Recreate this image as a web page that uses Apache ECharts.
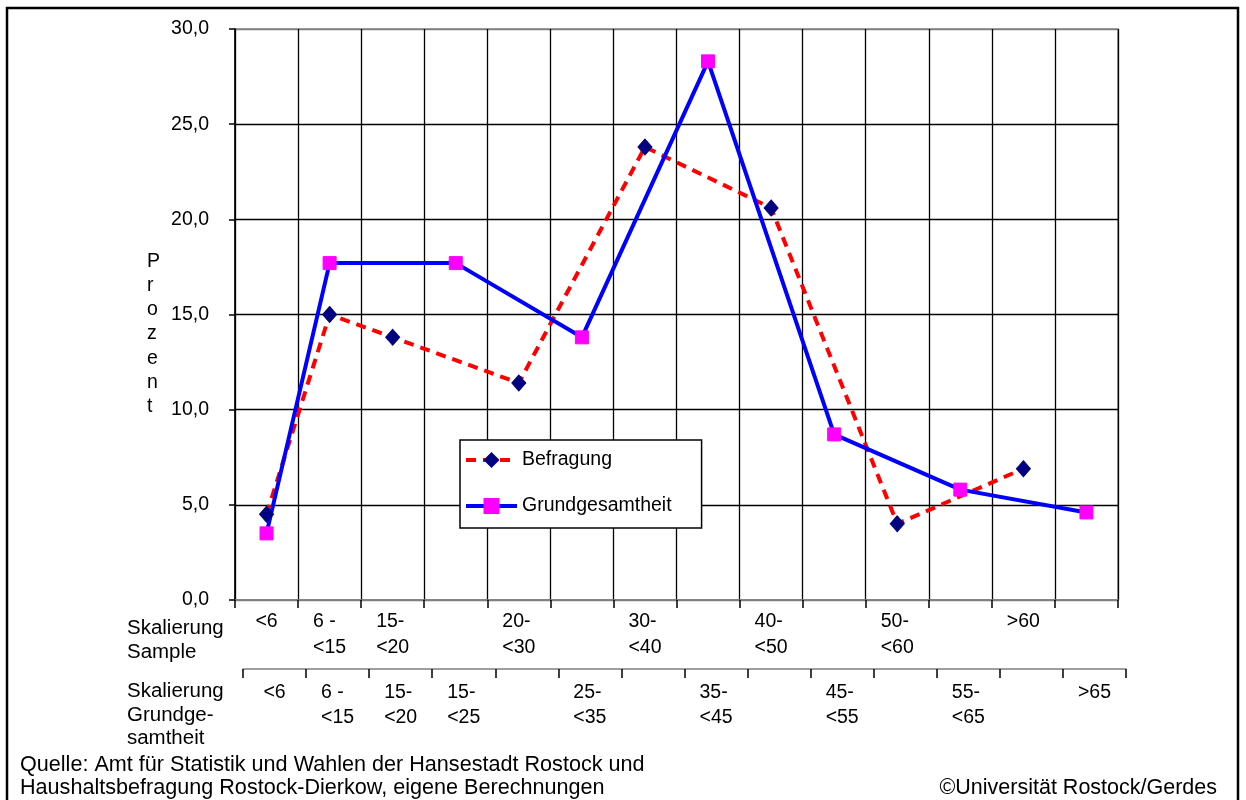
<!DOCTYPE html>
<html>
<head>
<meta charset="utf-8">
<script src="https://cdn.jsdelivr.net/npm/echarts@6/dist/echarts.min.js"></script>
<style>html,body{margin:0;padding:0;background:#fff}#c{width:1246px;height:800px}</style>
</head>
<body>
<div id="c"></div>
<script>
// column ids (14 age-class columns)
const categories = ['k01','k02','k03','k04','k05','k06','k07','k08','k09','k10','k11','k12','k13','k14'];
// tick labels, row "Skalierung Sample"
const sampleLabels = ['<6','6 -\n<15','15-\n<20','','20-\n<30','','30-\n<40','','40-\n<50','','50-\n<60','','>60',''];
// tick labels, row "Skalierung Grundgesamtheit"
const populationLabels = ['<6','6 -\n<15','15-\n<20','15-\n<25','','25-\n<35','','35-\n<45','','45-\n<55','','55-\n<65','','>65'];
// series values (Prozent)
const befragung = [4.5, 15.0, 13.8, null, 11.4, null, 23.8, null, 20.6, null, 4.0, null, 6.9, null];
const grundgesamtheit = [3.5, 17.7, null, 17.7, null, 13.8, null, 28.3, null, 8.7, null, 5.8, null, 4.6];
// y tick labels
const yTickLabels = ['0,0','5,0','10,0','15,0','20,0','25,0','30,0'];

const FONT = '"Liberation Sans", Arial, sans-serif';
const FS = 19.5;

function rich(s) {
  if (!s) return '';
  return s.split('\n').map(l => '{a|' + l + '}').join('\n');
}

const chart = echarts.init(document.getElementById('c'), null, {renderer: 'canvas'});

const option = {
  animation: false,
  backgroundColor: '#fff',
  textStyle: {fontFamily: FONT},
  grid: [
    {left: 235, top: 29, width: 883, height: 571, show: true, borderColor: '#808080', borderWidth: 1.5, backgroundColor: 'transparent'},
    {left: 243, top: 29, width: 883, height: 571, show: false}
  ],
  xAxis: [
    {
      type: 'category', gridIndex: 0, data: categories, boundaryGap: true,
      axisLine: {show: true, onZero: false, lineStyle: {color: '#808080', width: 1.5}},
      axisTick: {show: true, length: 8, interval: 0, lineStyle: {color: '#000', width: 1.5}},
      splitLine: {show: true, interval: 0, lineStyle: {color: '#000', width: 1.3}},
      axisLabel: {
        interval: 0, margin: 9,
        formatter: (v, i) => rich(sampleLabels[i]),
        rich: {a: {fontSize: FS, fontFamily: FONT, color: '#000', lineHeight: 26, align: 'left'}}
      }
    },
    {
      type: 'category', gridIndex: 1, data: categories, boundaryGap: true,
      position: 'bottom', offset: 69,
      axisLine: {show: true, onZero: false, lineStyle: {color: '#808080', width: 1.5}},
      axisTick: {show: true, length: 9, interval: 0, lineStyle: {color: '#000', width: 1.5}},
      splitLine: {show: false},
      axisLabel: {
        interval: 0, margin: 11,
        formatter: (v, i) => rich(populationLabels[i]),
        rich: {a: {fontSize: FS, fontFamily: FONT, color: '#000', lineHeight: 25, align: 'left'}}
      }
    }
  ],
  yAxis: [
    {
      type: 'value', gridIndex: 0, min: 0, max: 30, interval: 5,
      axisLine: {show: true, lineStyle: {color: '#000', width: 1.5}},
      axisTick: {show: true, length: 6, lineStyle: {color: '#000', width: 1.5}},
      splitLine: {show: true, lineStyle: {color: ['#808080','#000','#000','#000','#000','#000','#808080'], width: 1.3}},
      axisLabel: {
        margin: 26, color: '#000', fontSize: FS, fontFamily: FONT,
        padding: [0, 0, 9, 0],
        formatter: v => yTickLabels[Math.round(v / 5)]
      }
    },
    {type: 'value', gridIndex: 1, min: 0, max: 30, show: false}
  ],
  legend: {
    orient: 'vertical', left: 460, top: 440,
    padding: [10, 30, 12, 4],
    itemWidth: 51, itemHeight: 20, itemGap: 26,
    backgroundColor: '#fff', borderColor: '#000', borderWidth: 1.5,
    lineStyle: {width: 4},
    textStyle: {fontSize: FS, fontFamily: FONT, color: '#000'},
    data: ['Befragung', 'Grundgesamtheit']
  },
  series: [
    {
      name: 'Befragung', type: 'line', xAxisIndex: 0, yAxisIndex: 0,
      data: befragung, connectNulls: true,
      lineStyle: {color: '#ff0000', width: 4, type: [10, 7]},
      symbol: 'diamond', symbolSize: [14, 16],
      itemStyle: {color: '#000080', borderColor: '#000080'}
    },
    {
      name: 'Grundgesamtheit', type: 'line', xAxisIndex: 0, yAxisIndex: 0,
      data: grundgesamtheit, connectNulls: true,
      lineStyle: {color: '#0000ff', width: 4},
      symbol: 'rect', symbolSize: 13,
      itemStyle: {color: '#ff00ff', borderColor: '#ff00ff'}
    }
  ],
  graphic: [
    {type: 'rect', shape: {x: 7, y: 8, width: 1231, height: 830}, style: {fill: 'none', stroke: '#000', lineWidth: 2.5}, silent: true},
    {type: 'text', left: 147, top: 249, style: {text: 'P\nr\no\nz\ne\nn\nt', font: FS + 'px ' + FONT, fill: '#000', lineHeight: 24.3, align: 'center'}},
    {type: 'text', left: 127, top: 617, scaleX: 1.05, originX: 127, style: {text: 'Skalierung\nSample', font: FS + 'px ' + FONT, fill: '#000', lineHeight: 24}},
    {type: 'text', left: 127, top: 680, scaleX: 1.05, originX: 127, style: {text: 'Skalierung\nGrundge-\nsamtheit', font: FS + 'px ' + FONT, fill: '#000', lineHeight: 23.5}},
    {type: 'text', left: 20, top: 753, style: {text: 'Quelle: Amt für Statistik und Wahlen der Hansestadt Rostock und\nHaushaltsbefragung Rostock-Dierkow, eigene Berechnungen', font: '21.6px ' + FONT, fill: '#000', lineHeight: 23.5}},
    {type: 'text', right: 29, top: 777, style: {text: '©Universität Rostock/Gerdes', font: '21.5px ' + FONT, fill: '#000'}}
  ]
};
chart.setOption(option);
</script>
</body>
</html>
